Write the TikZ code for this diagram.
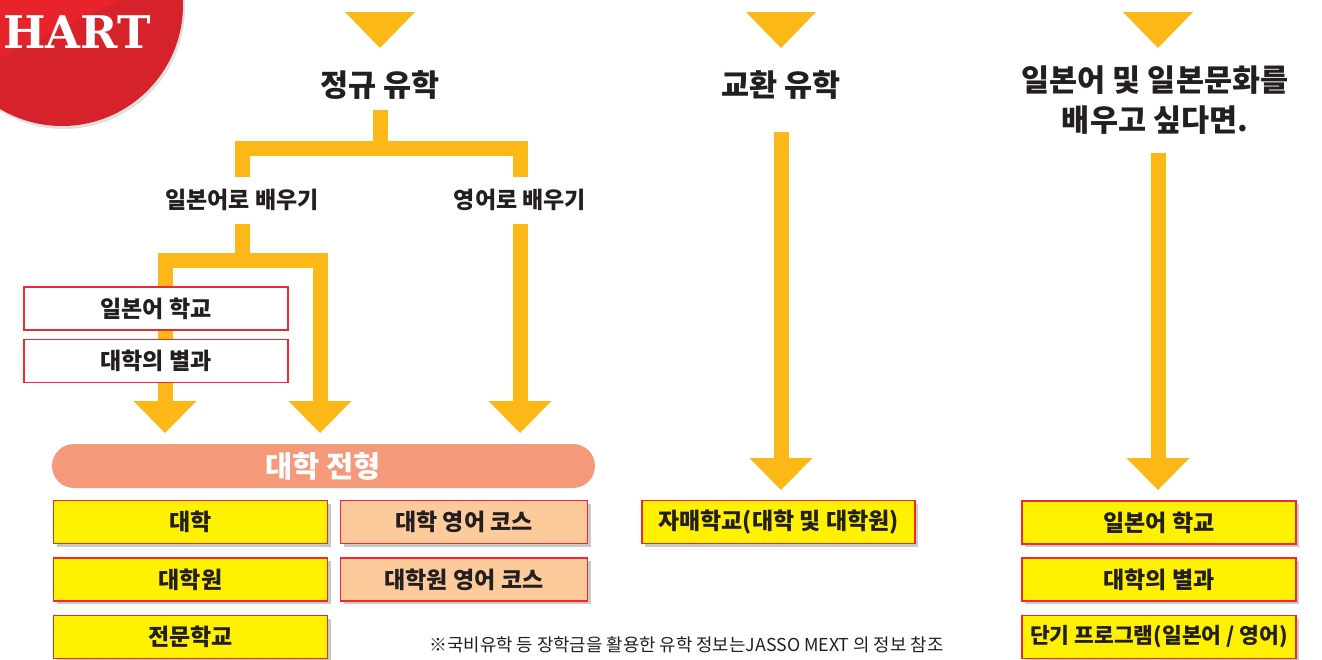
\documentclass[tikz,border=0pt]{standalone}
\usepackage{fontspec}
\setmainfont{Noto Sans CJK KR}
\newfontfamily\slabfont{DejaVu Serif}
\definecolor{flowGold}{HTML}{FBB817}
\definecolor{inkDark}{HTML}{231F20}
\definecolor{boxRed}{HTML}{EE2A2F}
\definecolor{boxYellow}{HTML}{FFF100}
\definecolor{boxPeach}{HTML}{FDCB9B}
\definecolor{pillSalmon}{HTML}{F4997A}
\definecolor{chartRed}{HTML}{D6222A}
\definecolor{chartRedHi}{HTML}{E8232B}
\usetikzlibrary{arrows.meta,shadows}

\begin{document}
\begin{tikzpicture}[x=1pt, y=-1pt,
  pipe/.style={line width=15pt, color=flowGold, line join=miter},
  arr/.style={-{Triangle[width=63pt,length=32pt,line width=0pt]}},
  title/.style={font=\fontsize{30.5}{40}\selectfont\bfseries, text=inkDark, align=center, inner sep=0pt},
  branch/.style={font=\fontsize{23}{26}\selectfont\bfseries, text=inkDark, inner sep=0pt},
  block/.style={draw=boxRed, line width=1.4pt, minimum height=43pt, text=inkDark,
    font=\fontsize{23}{26}\selectfont\bfseries, inner sep=0pt},
  shade/.style={drop shadow={shadow xshift=3pt, shadow yshift=-3pt, opacity=0.3, fill=black!70}},
  yblock/.style={block, fill=boxYellow, minimum width=274pt, shade},
  pblock/.style={block, fill=boxPeach, minimum width=247pt, shade},
  wblock/.style={block, fill=white, minimum width=264pt}
]
  \useasboundingbox (0,0) rectangle (1322,659);
  \clip (0,0) rectangle (1322,659);

  % corner badge
  \fill[chartRed, drop shadow={shadow xshift=2pt, shadow yshift=-3pt, opacity=0.12, fill=black}] (62,5) circle (121);
  \begin{scope}
    \clip (62,5) circle (121);
    \fill[chartRedHi] (0,0) -- (120,0) -- (0,58) -- cycle;
  \end{scope}
  \node[anchor=base west, text=white, inner sep=0pt,
    font=\slabfont\bfseries\fontsize{45}{45}\selectfont] (badge) at (3,48) {HART};

  % top triangles
  \foreach \cx in {380,781,1158}
    \fill[flowGold] (\cx-35,12) -- (\cx+35,12) -- (\cx,48) -- cycle;

  \node[title] (regular) at (380,85) {정규 유학};
  \node[title] (exchange) at (781,85) {교환 유학};
  \node[title] (culture) at (1155,100) {일본어 및 일본문화를\\배우고 싶다면.};

  \node[branch] (viaJp) at (242,200) {일본어로 배우기};
  \node[branch] (viaEn) at (520,200) {영어로 배우기};

  \coordinate (forkTop) at (380,148);
  \coordinate (forkJp) at (242,260);
  \coordinate (dropA) at (165,433);
  \coordinate (dropB) at (320,433);
  \coordinate (dropC) at (520,433);
  \coordinate (dropD) at (781,490);
  \coordinate (dropE) at (1158,490);

  \draw[pipe] (regular.south) ++(0,10) -- (forkTop);
  \draw[pipe] ([yshift=12pt]viaJp.north) |- (forkTop) -| ([yshift=12pt]viaEn.north);
  \draw[pipe] (viaJp.south) ++(0,13) -- (forkJp);
  \draw[pipe,arr] (forkJp) -| (dropA);
  \draw[pipe,arr] (forkJp) -| (dropB);
  \draw[pipe,arr] (dropC |- viaEn.south) ++(0,13) -- (dropC);
  \draw[pipe,arr] (exchange.south) ++(0,32) -- (dropD);
  \draw[pipe,arr] (dropE |- culture.south) ++(0,18) -- (dropE);

  \node[wblock] (jpSchool) at (156,308.5) {일본어 학교};
  \node[wblock] (bekka) at (156,361) {대학의 별과};

  \node[rounded corners=22pt, fill=pillSalmon, minimum width=543pt, minimum height=44pt,
    text=white, font=\fontsize{29.5}{32}\selectfont\bfseries] (exam) at (323.5,466) {대학 전형};

  \node[yblock] (univ) at (190.5,522) {대학};
  \node[yblock] (grad) at (190.5,579.5) {대학원};
  \node[yblock] (senmon) at (190.5,637) {전문학교};
  \node[pblock] (univEn) at (464,522) {대학 영어 코스};
  \node[pblock] (gradEn) at (464,579.5) {대학원 영어 코스};

  \node[yblock, minimum width=273pt] (sister) at (778.5,522) {자매학교(대학 및 대학원)};

  \node[yblock] (rSchool) at (1159,522.5) {일본어 학교};
  \node[yblock] (rBekka) at (1159,579.5) {대학의 별과};
  \node[yblock, font=\fontsize{21.5}{24}\selectfont\bfseries] (rShort) at (1159,637) {단기 프로그램(일본어 / 영어)};

  \node[text=inkDark, font=\fontsize{17.8}{20}\selectfont, inner sep=0pt] (note) at (686.5,645)
    {※국비유학 등 장학금을 활용한 유학 정보는JASSO MEXT 의 정보 참조};
\end{tikzpicture}
\end{document}
